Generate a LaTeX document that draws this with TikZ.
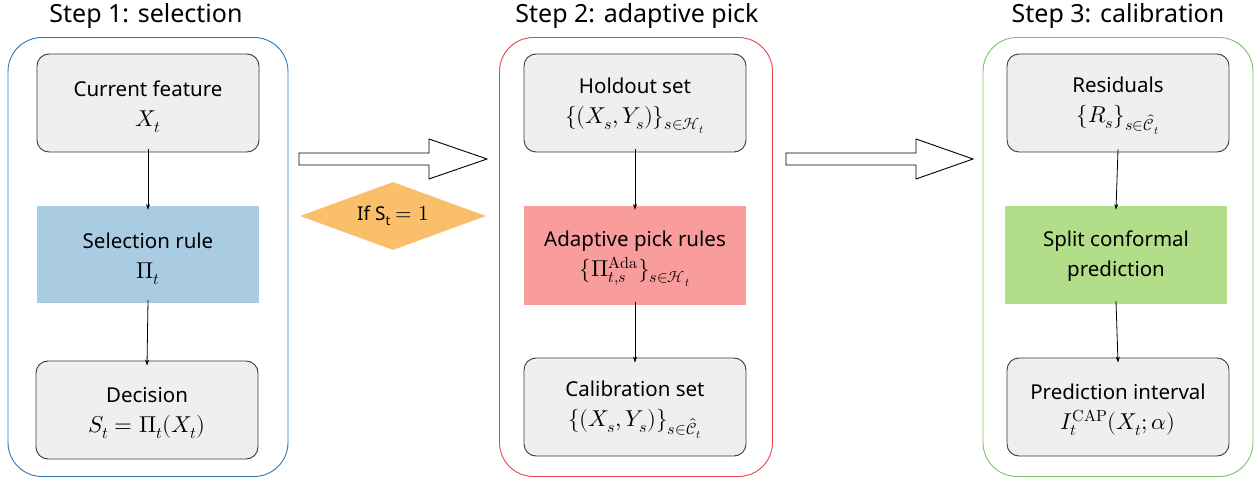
\documentclass[tikz,border=0pt]{standalone}
\usepackage{fontspec}
\usepackage{unicode-math}
\setmainfont{Noto Sans}
\setmathfont{Latin Modern Math}[Scale=1.12]
\usetikzlibrary{shapes.geometric,arrows.meta}
\definecolor{gbox}{HTML}{EFEFEF}
\definecolor{gline}{HTML}{3A3A3A}
\definecolor{bluefill}{HTML}{A9CCE3}
\definecolor{pinkfill}{HTML}{F99C9C}
\definecolor{greenfill}{HTML}{B2DE8A}
\definecolor{orangefill}{HTML}{FBBE6A}
\definecolor{blueline}{HTML}{2E75B6}
\definecolor{redline}{HTML}{E8454A}
\definecolor{greenline}{HTML}{77C466}
\tikzset{
  x=1pt,y=-1pt,
  txt/.style={font=\fontsize{20.5}{30}\selectfont, align=center, inner sep=0pt},
  graybox/.style={draw=gline, line width=0.9pt, fill=gbox, rounded corners=12pt, minimum width=222pt, minimum height=98pt, inner sep=0pt},
  flatbox/.style={minimum width=222pt, minimum height=98pt, inner sep=0pt},
  panel/.style={draw=#1, line width=0.9pt, rounded corners=34pt, inner sep=0pt, minimum height=439pt},
  ttl/.style={font=\fontsize{25}{30}\selectfont},
  flow/.style={-{Stealth[length=6pt,width=4pt]}, line width=0.8pt},
  blockarrow/.style={draw=black, line width=0.9pt, fill=white},
}
\begin{document}
\begin{tikzpicture}
\useasboundingbox (0,0) rectangle (1258,478);
% panels
\node[panel=blueline, minimum width=280pt] (p1) at (148,257) {};
\node[panel=redline, minimum width=273pt] (p2) at (636,257) {};
\node[panel=greenline, minimum width=270pt] (p3) at (1118,257) {};
\node[ttl] (t1) at (146,16) {Step 1: selection};
\node[ttl] (t2) at (637,16) {Step 2: adaptive pick};
\node[ttl] (t3) at (1118,16) {Step 3: calibration};
% step 1
\node[graybox] (a1) at (148,103) {};
\node[txt] (a1t) at ([yshift=-4pt]a1.center) {Current feature\\ $X_t$};
\node[flatbox, fill=bluefill, minimum height=97pt] (a2) at (148,254.5) {};
\node[txt] (a2t) at ([yshift=-4pt]a2.center) {Selection rule\\ $\Pi_t$};
\node[graybox] (a3) at (147,410) {};
\node[txt] (a3t) at ([yshift=-3pt]a3.center) {Decision\\ $S_t=\Pi_t(X_t)$};
% step 2
\node[graybox] (b1) at (635,103) {};
\node[txt] (b1t) at ([yshift=-3pt]b1.center) {Holdout set\\ $\{(X_s,Y_s)\}_{s\in\mathcal{H}_t}$};
\node[flatbox, fill=pinkfill, minimum height=99pt] (b2) at (635,255.5) {};
\node[txt] (b2t) at ([yshift=-3pt]b2.center) {Adaptive pick rules\\ $\{\Pi_{t,s}^{\symup{Ada}}\}_{s\in\mathcal{H}_t}$};
\node[graybox] (b3) at (635,407) {};
\node[txt] (b3t) at ([yshift=-3pt]b3.center) {Calibration set\\ $\{(X_s,Y_s)\}_{s\in\hat{\mathcal{C}}_t}$};
% step 3
\node[graybox] (c1) at (1118,103) {};
\node[txt] (c1t) at ([yshift=-3pt]c1.center) {Residuals\\ $\{R_s\}_{s\in\hat{\mathcal{C}}_t}$};
\node[flatbox, fill=greenfill] (c2) at (1116,255) {};
\node[txt] (c2t) at ([yshift=-1pt]c2.center) {Split conformal\\ prediction};
\node[graybox] (c3) at (1118,407) {};
\node[txt] (c3t) at ([yshift=-3pt]c3.center) {Prediction interval\\ $I_t^{\symup{CAP}}(X_t;\alpha)$};
% flow arrows
\draw[flow] ([yshift=3pt]a1.south) -- ([yshift=-4pt]a2.north);
\draw[flow] ([yshift=3pt]a2.south) -- ([yshift=-5pt]a3.north);
\draw[flow] ([yshift=3pt]b1.south) -- ([yshift=-4pt]b2.north);
\draw[flow] ([yshift=3pt]b2.south) -- ([yshift=-5pt]b3.north);
\draw[flow] ([yshift=3pt]c1.south) -- ([yshift=-4pt]c2.north);
\draw[flow] ([yshift=3pt]c2.south) -- ([yshift=-5pt]c3.north);
% block arrows between panels
\draw[blockarrow] (299,153) -- (429,153) -- (429,139) -- (487,159) -- (429,179) -- (429,165) -- (299,165) -- cycle;
\draw[blockarrow] (786,153) -- (916,153) -- (916,139) -- (973,159) -- (916,179) -- (916,165) -- (786,165) -- cycle;
% condition
\node[diamond, fill=orangefill, minimum width=186pt, minimum height=68pt, inner sep=0pt, aspect=2.7, font=\fontsize{19}{24}\selectfont] (d) at (393,216) {If S\textsubscript{t} $=1$};
\end{tikzpicture}
\end{document}
